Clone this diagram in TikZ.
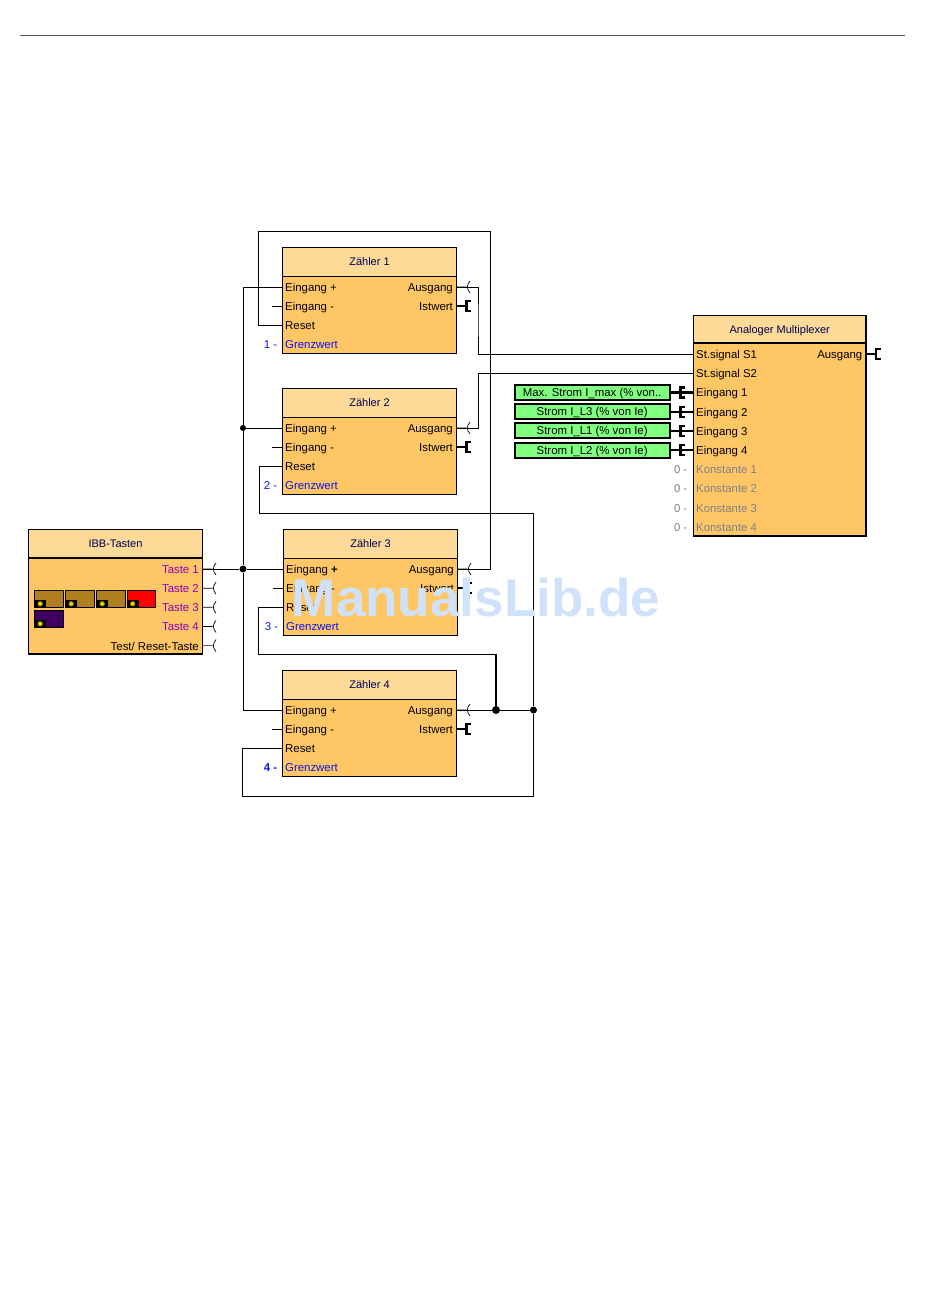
\documentclass[tikz,border=0pt]{standalone}
\usepackage{fontspec}
\usepackage{xcolor}
\usepackage{tikz}
\usetikzlibrary{positioning}
\setmainfont{Liberation Sans}
\definecolor{headfill}{RGB}{253,218,152}
\definecolor{bodyfill}{RGB}{255,198,102}
\definecolor{headtext}{RGB}{0,0,80}
\definecolor{keytan}{RGB}{176,128,32}
\definecolor{keypurple}{RGB}{64,0,96}
\definecolor{tastetext}{RGB}{140,0,190}
\definecolor{limitblue}{RGB}{10,20,240}
\definecolor{constgrey}{RGB}{128,128,136}
\definecolor{inputgreen}{RGB}{128,255,128}
\definecolor{markblue}{RGB}{207,226,250}

\begin{document}
\begin{tikzpicture}[
    x=1pt, y=-1pt,
    head/.style={rectangle, draw=black, fill=headfill, line width=1pt, outer sep=0pt,
                 minimum width=174pt, minimum height=28.5pt, inner sep=0pt, text height=8pt, text depth=0pt,
                 font=\fontsize{11}{13}\selectfont, text=headtext},
    body/.style={rectangle, draw=black, fill=bodyfill, line width=1pt, outer sep=0pt,
                 minimum width=174pt, minimum height=77.5pt, inner sep=0pt},
    inport/.style={anchor=west, inner xsep=2.5pt, inner ysep=0pt, text height=9pt, text depth=0pt,
                   font=\fontsize{11.4}{13}\selectfont},
    outport/.style={inport, anchor=east, inner xsep=3.5pt},
    limit/.style={inport, anchor=east, inner xsep=0pt},
    dot/.style={circle, fill=black, inner sep=0pt, minimum size=#1},
    wire/.style={line width=1pt},
    bus/.style={line width=2.2pt},
    feed/.style={rectangle, draw=black, fill=inputgreen, line width=2pt, minimum width=154.7pt,
                 minimum height=15pt, inner sep=0pt, text height=8pt, text depth=0pt,
                 font=\fontsize{11.4}{13}\selectfont},
    keybtn/.style={rectangle, draw=black, line width=1pt, anchor=north west, minimum width=28.5pt,
                   minimum height=17.5pt, inner sep=0pt},
    keybase/.style={rectangle, fill=black, anchor=south west, minimum width=12pt, minimum height=8pt, inner sep=0pt},
    keyled/.style={circle, draw=olive, fill=yellow!70!orange, line width=.8pt, minimum size=4.5pt, inner sep=0pt},
    socket/.pic={\draw[line width=.7pt] (0,0) -- (10,0) (13.5,-6) .. controls (10,-2) and (10,2) .. (13.5,6);},
    plug/.pic={\draw[bus] (0,0) -- (10,0) (14.5,-5) -- (10,-5) -- (10,5) -- (14.5,5);}]
\useasboundingbox (0,0) rectangle (950,1302);

\coordinate (rulea) at (20,35.5);
\coordinate (ruleb) at (905,35.5);
\draw[black!65, line width=1.2pt] (rulea) -- (ruleb);

% counters
\node[head, anchor=north west] (z1) at (282.5,247.5) {Zähler 1};
\node[body, below=0pt of z1] (z1body) {};
\node[head, below=35pt of z1body] (z2) {Zähler 2};
\node[body, below=0pt of z2] (z2body) {};
\node[head, below=35pt of z2body, xshift=1pt] (z3) {Zähler 3};
\node[body, below=0pt of z3] (z3body) {};
\node[head, below=35pt of z3body, xshift=-1pt] (z4) {Zähler 4};
\node[body, below=0pt of z4] (z4body) {};

\foreach \b/\s in {z1/+,z2/+,z3/\textbf{+},z4/+} {
  \node[inport] (\b-ein) at ([yshift=-11pt]\b body.north west) {Eingang \s};
  \node[inport] (\b-eim) at ([yshift=-19.15pt]\b-ein.west) {Eingang -};
  \node[inport] (\b-res) at ([yshift=-19.15pt]\b-eim.west) {Reset};
  \node[inport, text=limitblue] (\b-grw) at ([yshift=-19.15pt]\b-res.west) {Grenzwert};
  \node[outport] (\b-aus) at ([yshift=-11pt]\b body.north east) {Ausgang};
  \node[outport] (\b-ist) at ([yshift=-19.15pt]\b-aus.east) {Istwert};
  \pic at (\b-aus.east) {socket};
  \pic at (\b-ist.east) {plug};
  \coordinate (\b-stub) at ([xshift=-11pt]\b-eim.west);
  \draw[wire] (\b-stub) -- (\b-eim.west);
}
\node[limit, text=limitblue] (z1-lim) at ([xshift=-5pt]z1-grw.west) {1 -};
\node[limit, text=limitblue] (z2-lim) at ([xshift=-5pt]z2-grw.west) {2 -};
\node[limit, text=limitblue] (z3-lim) at ([xshift=-5pt]z3-grw.west) {3 -};
\node[limit, text=limitblue, font=\fontsize{11.4}{13}\selectfont\bfseries] (z4-lim) at ([xshift=-5pt]z4-grw.west) {4 -};

% keys block
\node[head, anchor=north west, line width=1.1pt] (ibb) at (28.5,529.5) {IBB-Tasten};
\node[body, below=0pt of ibb, minimum height=96pt, line width=1.1pt] (ibbbody) {};
\node[outport, text=tastetext] (ib1) at ([yshift=-11pt]ibbbody.north east) {Taste 1};
\node[outport, text=tastetext] (ib2) at ([yshift=-19.15pt]ib1.east) {Taste 2};
\node[outport, text=tastetext] (ib3) at ([yshift=-19.15pt]ib2.east) {Taste 3};
\node[outport, text=tastetext] (ib4) at ([yshift=-19.15pt]ib3.east) {Taste 4};
\node[outport] (ib5) at ([yshift=-19.15pt]ib4.east) {Test/ Reset-Taste};
\foreach \p in {ib1,ib2,ib3,ib4,ib5}
  \pic at (\p.east) {socket};
\foreach \n/\x/\y/\c in {ka/34/589.5/keytan, kb/65/589.5/keytan, kc/96/589.5/keytan, kd/126.5/589.5/red, ke/34/609.5/keypurple} {
  \node[keybtn, fill=\c] (\n) at (\x,\y) {};
  \node[keybase] (\n base) at (\n.south west) {};
  \node[keyled] (\n led) at (\n base) {};
}

% multiplexer
\node[head, anchor=north west, minimum width=172.5pt, minimum height=27.5pt, line width=1.1pt] (mux) at (693.5,315.5) {Analoger Multiplexer};
\node[body, below=0pt of mux, minimum width=172.5pt, minimum height=193pt, line width=1.1pt] (muxbody) {};
\node[inport] (mx1) at ([yshift=-11pt]muxbody.north west) {St.signal S1};
\node[inport] (mx2) at ([yshift=-19.2pt]mx1.west) {St.signal S2};
\node[inport] (mx3) at ([yshift=-19.2pt]mx2.west) {Eingang 1};
\node[inport] (mx4) at ([yshift=-19.2pt]mx3.west) {Eingang 2};
\node[inport] (mx5) at ([yshift=-19.2pt]mx4.west) {Eingang 3};
\node[inport] (mx6) at ([yshift=-19.2pt]mx5.west) {Eingang 4};
\node[inport, text=constgrey] (mx7) at ([yshift=-19.2pt]mx6.west) {Konstante 1};
\node[inport, text=constgrey] (mx8) at ([yshift=-19.2pt]mx7.west) {Konstante 2};
\node[inport, text=constgrey] (mx9) at ([yshift=-19.2pt]mx8.west) {Konstante 3};
\node[inport, text=constgrey] (mx10) at ([yshift=-19.2pt]mx9.west) {Konstante 4};
\node[outport] (mxaus) at ([yshift=-11pt]muxbody.north east) {Ausgang};
\pic at (mxaus.east) {plug};
\foreach \i in {7,8,9,10}
  \node[limit, text=constgrey] (mx\i-lim) at ([xshift=-6pt]mx\i.west) {0 -};

\node[feed, left=23pt of mx3.west] (fd1) {Max. Strom I\_max (\% von..};
\node[feed, left=23pt of mx4.west] (fd2) {Strom I\_L3 (\% von Ie)};
\node[feed, left=23pt of mx5.west] (fd3) {Strom I\_L1 (\% von Ie)};
\node[feed, left=23pt of mx6.west] (fd4) {Strom I\_L2 (\% von Ie)};
\foreach \i/\j/\w in {1/3/3pt,2/4/2.2pt,3/5/2.2pt,4/6/2.2pt} {
  \pic at (fd\i.east) {plug};
  \draw[bus, line width=\w] (fd\i.east) -- (mx\j.west);
}

% wiring
\coordinate (trunk) at (243,0);
\coordinate (c1) at (258.5,231);
\coordinate (c2) at (490.5,231);
\coordinate (c3) at (259.5,513);
\coordinate (c4) at (533.5,513);
\coordinate (c5) at (533.5,796);
\coordinate (c6) at (242.5,796);
\coordinate (c7) at (258.5,654);
\coordinate (c8) at (496,654);
\coordinate (k1) at (478,320);
\coordinate (k2) at (478.5,400);
\node[dot=6pt] (j1) at (trunk |- z2-ein.west) {};
\node[dot=7pt] (j2) at (trunk |- ib1.east) {};
\node[dot=8pt] (j3) at (c8 |- z4-aus.east) {};
\node[dot=7pt] (j4) at (c4 |- z4-aus.east) {};

\draw[wire] (z1-ein.west) -| (j1);
\draw[wire] (z2-ein.west) -- (j1);
\draw[wire] (j1) -- (j2);
\draw[wire] (j2) |- (z4-ein.west);
\draw[wire] (ib1.east) -- (j2);
\draw[wire] (j2) -- (z3-ein.west);
\draw[wire] (z1-res.west) -| (c1) -- (c2) |- (z3-aus.east);
\draw[wire] (z1-aus.east) -| (k1) |- (mx1.west);
\draw[wire] (z2-aus.east) -| (k2) |- (mx2.west);
\draw[wire] (z2-res.west) -| (c3) -- (c4) -- (j4);
\draw[wire] (j4) -- (c5) -- (c6) |- (z4-res.west);
\draw[wire] (z3-res.west) -| (c7) -- (c8);
\draw[bus] (c8) -- (j3);
\draw[wire] (z4-aus.east) -- (j3);
\draw[wire] (j3) -- (j4);

\node[text=markblue, font=\fontsize{53}{57}\selectfont\bfseries, inner sep=0pt] (mark) at (476,598) {ManualsLib.de};
\end{tikzpicture}
\end{document}
